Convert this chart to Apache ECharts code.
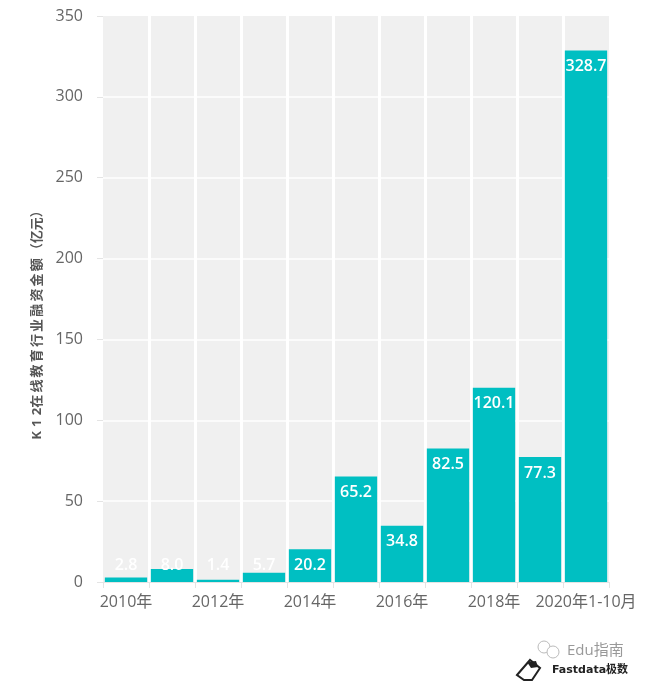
<!DOCTYPE html>
<html>
<head>
<meta charset="utf-8">
<style>
  html, body { margin: 0; padding: 0; background: #fff; }
  #chart { width: 653px; height: 693px; }
</style>
<script src="https://cdn.jsdelivr.net/npm/echarts@6/dist/echarts.min.js"></script>
</head>
<body>
<div id="chart"></div>
<script>
const categories = ['2010年', '2011年', '2012年', '2013年', '2014年', '2015年', '2016年', '2017年', '2018年', '2019年', '2020年1-10月']
const financing = [2.8, 8.0, 1.4, 5.7, 20.2, 65.2, 34.8, 82.5, 120.1, 77.3, 328.7]
const yTicks = { min: 0, max: 350, interval: 50 }
const yName = 'K\u2009\u20091\u2009\u20092在\u2009线\u2009教\u2009育\u2009行\u2009业\u2009融\u2009资\u2009金\u2009额\u2009（亿元）'

const font = '"Open Sans", "Noto Sans CJK SC", sans-serif'
const chart = echarts.init(document.getElementById('chart'))

chart.setOption({
  animation: false,
  backgroundColor: '#fff',
  grid: { left: 103, right: 44, top: 16, bottom: 111, backgroundColor: '#f0f0f0', show: true, borderWidth: 0 },
  xAxis: {
    type: 'category',
    data: categories,
    axisLine: { lineStyle: { color: '#e4e4e4' } },
    axisTick: { show: true, length: 6, interval: 0, lineStyle: { color: '#e4e4e4' } },
    axisLabel: { interval: 1, color: '#666', fontSize: 16, fontFamily: font, margin: 12, hideOverlap: false },
    splitLine: { show: true, interval: 0, showMinLine: false, showMaxLine: false, lineStyle: { color: '#fff', width: 3 } }
  },
  yAxis: {
    type: 'value',
    min: yTicks.min,
    max: yTicks.max,
    interval: yTicks.interval,
    name: yName,
    nameLocation: 'middle',
    nameGap: 59,
    nameTextStyle: { color: '#555', fontSize: 13, fontWeight: 'bold', fontFamily: font, padding: [0, 46, 0, 0] },
    axisLine: { show: false },
    axisTick: { show: true, length: 6, lineStyle: { color: '#e4e4e4' } },
    axisLabel: { color: '#666', fontSize: 16, fontFamily: font, margin: 20 },
    splitLine: { show: true, showMinLine: false, showMaxLine: false, lineStyle: { color: '#fff', width: 1.5 } }
  },
  series: [{
    type: 'bar',
    barWidth: '92%',
    itemStyle: { color: '#00bfc2' },
    // short bars keep their label at a fixed height above the axis
    data: financing.map(v => ({
      value: v,
      label: v < 25 ? { position: 'insideBottom', distance: 9 } : { position: 'insideTop', distance: 8 }
    })),
    label: {
      show: true,
      color: '#fff',
      fontSize: 16,
      fontWeight: 600,
      fontFamily: font,
      formatter: p => p.value.toFixed(1)
    }
  }],
  graphic: [
    { type: 'circle', shape: { cx: 544, cy: 647, r: 6 }, style: { fill: 'none', stroke: '#bbb', lineWidth: 1 } },
    { type: 'circle', shape: { cx: 553, cy: 652, r: 6 }, style: { fill: '#fff', stroke: '#bbb', lineWidth: 1 } },
    { type: 'text', left: 567, top: 643, style: { text: 'Edu指南', fill: '#999', font: '15px ' + font } },
    { type: 'polygon', shape: { points: [[517, 675], [530, 660], [540, 668], [532, 680], [524, 680]] }, style: { fill: 'none', stroke: '#222', lineWidth: 2 } },
    { type: 'polygon', shape: { points: [[527, 662], [536, 661], [538, 667], [531, 668]] }, style: { fill: '#222' } },
    { type: 'text', left: 552, top: 665, style: { text: 'Fastdata极数', fill: '#222', font: 'bold 11px "DejaVu Sans", "Noto Sans CJK SC", sans-serif' } }
  ]
})
</script>
</body>
</html>
